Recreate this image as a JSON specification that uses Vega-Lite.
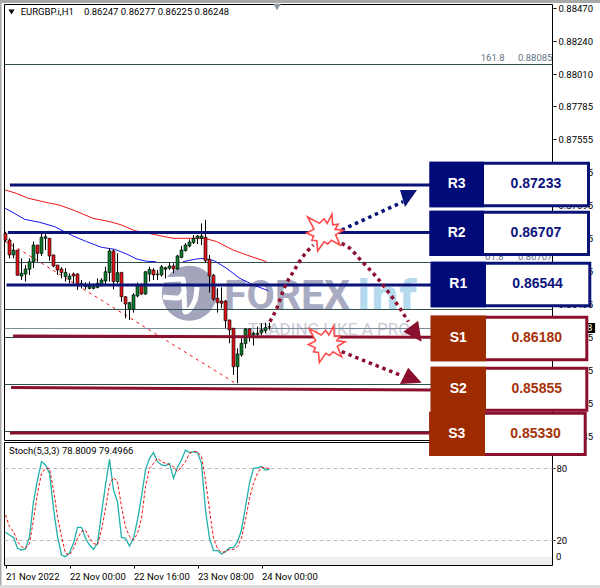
{"$schema":"https://vega.github.io/schema/vega-lite/v6.json","width":600,"height":588,"padding":0,"autosize":{"type":"none"},"background":"#ffffff","config":{"view":{"stroke":null},"text":{"font":"Roboto"},"axis":{"labelFont":"Roboto","labelFontSize":9.5,"labelColor":"#000000","tickColor":"#000000","domain":false,"grid":false,"title":null}},
"datasets":{
"chrome":[{"part":"edge","t":-1.375,"t1":148.625,"p":0.885258,"p1":0.885048},{"part":"edge","t":-1.375,"t1":-1.0,"p":0.885258,"p1":0.844276},{"part":"foot","t":-1.375,"t1":148.625,"p":0.844485,"p1":0.844276}],
"frame":[{"t":-0.25,"t1":136.75,"p":0.884944,"p1":0.854556}],
"fib":[{"t":-0.25,"t1":136.75,"p":0.880763,"p1":0.880763},{"t":-0.25,"t1":136.75,"p":0.866963,"p1":0.866963},{"t":-0.25,"t1":136.75,"p":0.863687,"p1":0.863687},{"t":-0.25,"t1":136.75,"p":0.861735,"p1":0.861735},{"t":-0.25,"t1":136.75,"p":0.858459,"p1":0.858459},{"t":-0.25,"t1":136.75,"p":0.855184,"p1":0.855184}],
"last":[{"t":-0.25,"t1":136.75,"p":0.862363,"p1":0.862363}],
"ma":[{"s":"red","t":-0.1,"p":0.87202},{"s":"red","t":2.75,"p":0.87178},{"s":"red","t":5.67,"p":0.87144},{"s":"red","t":9.4,"p":0.8712},{"s":"red","t":13.6,"p":0.87095},{"s":"red","t":16.9,"p":0.87062},{"s":"red","t":21.9,"p":0.87004},{"s":"red","t":26.1,"p":0.86981},{"s":"red","t":29,"p":0.86958},{"s":"red","t":32.3,"p":0.86918},{"s":"red","t":35.7,"p":0.869},{"s":"red","t":38.6,"p":0.86883},{"s":"red","t":41.9,"p":0.86865},{"s":"red","t":46.1,"p":0.86865},{"s":"red","t":49.8,"p":0.86865},{"s":"red","t":52.8,"p":0.86842},{"s":"red","t":56.9,"p":0.86783},{"s":"red","t":60.25,"p":0.86749},{"s":"red","t":65.25,"p":0.86702},
{"s":"blue1","t":-0.1,"p":0.87074},{"s":"blue1","t":1.9,"p":0.87044},{"s":"blue1","t":4.8,"p":0.86997},{"s":"blue1","t":8.6,"p":0.86976},{"s":"blue1","t":12.3,"p":0.86946},{"s":"blue1","t":14.4,"p":0.86916},{"s":"blue1","t":16.9,"p":0.86881},{"s":"blue1","t":20.25,"p":0.86842},{"s":"blue1","t":24,"p":0.86802},{"s":"blue1","t":27.3,"p":0.86788},{"s":"blue1","t":30.25,"p":0.86756},{"s":"blue1","t":32.75,"p":0.86721},{"s":"blue1","t":35.25,"p":0.86705},{"s":"blue1","t":37.6,"p":0.86702},
{"s":"blue2","t":44.4,"p":0.86702},{"s":"blue2","t":47.75,"p":0.86721},{"s":"blue2","t":49.8,"p":0.86725},{"s":"blue2","t":52.3,"p":0.86707},{"s":"blue2","t":55.25,"p":0.86656},{"s":"blue2","t":58.6,"p":0.86586},{"s":"blue2","t":61.9,"p":0.8654},{"s":"blue2","t":65.7,"p":0.865}],
"zigzag":[{"t":-0.1,"p":0.86842},{"t":2.75,"p":0.868},{"t":57.75,"p":0.8585}],
"logoDisc":[{"t":45.95,"p":0.86482}],
"logoCut":[{"s":"a","t":39.4,"p":0.86574},{"s":"a","t":44.4,"p":0.86581},{"s":"a","t":47.9,"p":0.86526},{"s":"a","t":47.4,"p":0.86435},{"s":"a","t":44.9,"p":0.86351},{"s":"b","t":39.4,"p":0.86456},{"s":"b","t":43.1,"p":0.86449},{"s":"b","t":44.9,"p":0.86505}],
"candles":[
{"t":0,"open":0.869,"high":0.86911,"low":0.86842,"close":0.86853},{"t":1,"open":0.86853,"high":0.86865,"low":0.86725,"close":0.86749},{"t":2,"open":0.86749,"high":0.8683,"low":0.86725,"close":0.86783},{"t":3,"open":0.86783,"high":0.86783,"low":0.86607,"close":0.86607},{"t":4,"open":0.86602,"high":0.86725,"low":0.86574,"close":0.86621},{"t":5,"open":0.86616,"high":0.86679,"low":0.86563,"close":0.86651},{"t":6,"open":0.86649,"high":0.86725,"low":0.86609,"close":0.86702},{"t":7,"open":0.86702,"high":0.86842,"low":0.86656,"close":0.86818},{"t":8,"open":0.86818,"high":0.86818,"low":0.86702,"close":0.8676},{"t":9,"open":0.8676,"high":0.869,"low":0.86742,"close":0.86872},{"t":10,"open":0.86865,"high":0.86904,"low":0.86783,"close":0.86876},{"t":11,"open":0.86865,"high":0.86865,"low":0.86709,"close":0.86742},{"t":12,"open":0.86749,"high":0.86749,"low":0.86663,"close":0.86672},{"t":13,"open":0.86679,"high":0.86679,"low":0.86609,"close":0.86644},{"t":14,"open":0.86651,"high":0.86663,"low":0.86586,"close":0.86626},{"t":15,"open":0.86598,"high":0.86656,"low":0.86563,"close":0.86626},{"t":16,"open":0.86579,"high":0.86621,"low":0.86551,"close":0.86602},{"t":17,"open":0.86616,"high":0.86626,"low":0.8654,"close":0.86602},{"t":18,"open":0.86616,"high":0.86621,"low":0.86505,"close":0.8654},{"t":19,"open":0.86537,"high":0.86574,"low":0.86516,"close":0.86551},{"t":20,"open":0.86528,"high":0.86558,"low":0.86509,"close":0.8654},{"t":21,"open":0.86516,"high":0.86563,"low":0.86509,"close":0.86528},{"t":22,"open":0.86516,"high":0.86551,"low":0.86509,"close":0.86528},{"t":23,"open":0.86523,"high":0.86586,"low":0.86516,"close":0.86551},{"t":24,"open":0.8654,"high":0.86586,"low":0.86528,"close":0.86574},{"t":25,"open":0.86567,"high":0.86667,"low":0.8654,"close":0.86632},{"t":26,"open":0.86626,"high":0.86795,"low":0.86563,"close":0.86777},{"t":27,"open":0.86777,"high":0.86788,"low":0.86509,"close":0.86563},{"t":28,"open":0.86563,"high":0.8676,"low":0.86551,"close":0.86626},{"t":29,"open":0.86626,"high":0.86632,"low":0.86423,"close":0.86458},{"t":30,"open":0.86458,"high":0.86463,"low":0.86307,"close":0.86407},{"t":31,"open":0.8637,"high":0.86423,"low":0.86296,"close":0.86416},{"t":32,"open":0.8637,"high":0.86482,"low":0.86347,"close":0.8647},{"t":33,"open":0.86463,"high":0.86556,"low":0.86454,"close":0.8654},{"t":34,"open":0.8654,"high":0.86551,"low":0.8647,"close":0.86477},{"t":35,"open":0.86477,"high":0.86637,"low":0.8647,"close":0.86632},{"t":36,"open":0.86616,"high":0.86667,"low":0.86563,"close":0.86649},{"t":37,"open":0.86644,"high":0.86656,"low":0.86574,"close":0.86609},{"t":38,"open":0.86611,"high":0.86644,"low":0.86574,"close":0.86616},{"t":39,"open":0.86609,"high":0.86679,"low":0.86598,"close":0.86667},{"t":40,"open":0.86649,"high":0.86667,"low":0.86586,"close":0.8666},{"t":41,"open":0.86656,"high":0.86695,"low":0.86644,"close":0.86672},{"t":42,"open":0.86672,"high":0.86691,"low":0.86621,"close":0.86651},{"t":43,"open":0.86651,"high":0.86749,"low":0.86644,"close":0.86742},{"t":44,"open":0.86732,"high":0.86811,"low":0.86725,"close":0.86783},{"t":45,"open":0.86779,"high":0.8683,"low":0.86772,"close":0.86818},{"t":46,"open":0.86811,"high":0.86858,"low":0.86802,"close":0.86839},{"t":47,"open":0.86835,"high":0.86888,"low":0.86825,"close":0.86865},{"t":48,"open":0.86865,"high":0.86888,"low":0.86825,"close":0.86881},{"t":49,"open":0.86865,"high":0.86969,"low":0.86818,"close":0.86881},{"t":50,"open":0.86872,"high":0.86993,"low":0.86695,"close":0.86709},{"t":51,"open":0.86718,"high":0.86749,"low":0.86486,"close":0.86602},{"t":52,"open":0.86607,"high":0.86616,"low":0.8643,"close":0.8644},{"t":53,"open":0.86447,"high":0.86516,"low":0.86347,"close":0.86416},{"t":54,"open":0.86428,"high":0.86523,"low":0.86377,"close":0.86412},{"t":55,"open":0.86428,"high":0.86435,"low":0.86238,"close":0.86291},{"t":56,"open":0.86296,"high":0.86296,"low":0.86133,"close":0.86226},{"t":57,"open":0.86238,"high":0.86238,"low":0.85912,"close":0.8597},{"t":58,"open":0.8597,"high":0.86098,"low":0.85854,"close":0.86059},{"t":59,"open":0.86052,"high":0.86168,"low":0.8604,"close":0.86133},{"t":60,"open":0.86131,"high":0.86238,"low":0.86098,"close":0.86233},{"t":61,"open":0.86233,"high":0.86238,"low":0.86145,"close":0.86175},{"t":62,"open":0.86191,"high":0.86214,"low":0.86117,"close":0.86203},{"t":63,"open":0.86196,"high":0.86249,"low":0.86168,"close":0.86203},{"t":64,"open":0.86207,"high":0.86273,"low":0.86191,"close":0.86226},{"t":65,"open":0.86221,"high":0.86277,"low":0.86203,"close":0.86242},{"t":66,"open":0.86247,"high":0.86277,"low":0.86225,"close":0.86248}],
"stochK":[{"t":0,"v":26.4},{"t":1,"v":24.2},{"t":2,"v":22.2},{"t":3,"v":13.1},{"t":4,"v":11.7},{"t":5,"v":12.5},{"t":6,"v":22.8},{"t":7,"v":51.9},{"t":8,"v":70},{"t":9,"v":85.3},{"t":10,"v":82.5},{"t":11,"v":75.6},{"t":12,"v":46.4},{"t":13,"v":22.8},{"t":14,"v":7.5},{"t":15,"v":6.1},{"t":16,"v":9.4},{"t":17,"v":17.2},{"t":18,"v":30.6},{"t":19,"v":30.6},{"t":20,"v":21.4},{"t":21,"v":15.8},{"t":22,"v":12.2},{"t":23,"v":17.2},{"t":24,"v":42.2},{"t":25,"v":65.8},{"t":26,"v":87.2},{"t":27,"v":61.7},{"t":28,"v":51.9},{"t":29,"v":22.2},{"t":30,"v":21.4},{"t":31,"v":15},{"t":32,"v":21.4},{"t":33,"v":36.7},{"t":34,"v":56.1},{"t":35,"v":78.3},{"t":36,"v":88.1},{"t":37,"v":92.8},{"t":38,"v":85.3},{"t":39,"v":82.5},{"t":40,"v":81.9},{"t":41,"v":83.9},{"t":42,"v":71.4},{"t":43,"v":80.6},{"t":44,"v":86.7},{"t":45,"v":95},{"t":46,"v":92.8},{"t":47,"v":93.6},{"t":48,"v":92.8},{"t":49,"v":83.9},{"t":50,"v":45},{"t":51,"v":21.4},{"t":52,"v":11.1},{"t":53,"v":11.1},{"t":54,"v":8.3},{"t":55,"v":10.3},{"t":56,"v":13.6},{"t":57,"v":13.6},{"t":58,"v":18.6},{"t":59,"v":28.3},{"t":60,"v":47.8},{"t":61,"v":67.2},{"t":62,"v":79.7},{"t":63,"v":80.3},{"t":64,"v":81.1},{"t":65,"v":78.3},{"t":66,"v":78.8}],
"stochD":[{"t":0,"v":40.8},{"t":1,"v":31.1},{"t":2,"v":27},{"t":3,"v":18.6},{"t":4,"v":14.4},{"t":5,"v":13},{"t":6,"v":17.2},{"t":7,"v":36.7},{"t":8,"v":58.9},{"t":9,"v":75.6},{"t":10,"v":79.7},{"t":11,"v":79.7},{"t":12,"v":61.7},{"t":13,"v":39.4},{"t":14,"v":22.8},{"t":15,"v":8.9},{"t":16,"v":7.5},{"t":17,"v":13},{"t":18,"v":21.4},{"t":19,"v":27},{"t":20,"v":28.3},{"t":21,"v":21.4},{"t":22,"v":17.2},{"t":23,"v":15.8},{"t":24,"v":28.3},{"t":25,"v":46.4},{"t":26,"v":65.8},{"t":27,"v":72},{"t":28,"v":68.6},{"t":29,"v":47.8},{"t":30,"v":31.1},{"t":31,"v":22.8},{"t":32,"v":20},{"t":33,"v":25.5},{"t":34,"v":38},{"t":35,"v":64.4},{"t":36,"v":79.7},{"t":37,"v":83.9},{"t":38,"v":88.1},{"t":39,"v":85.3},{"t":40,"v":83.9},{"t":41,"v":83},{"t":42,"v":81.1},{"t":43,"v":76.9},{"t":44,"v":81.1},{"t":45,"v":85.3},{"t":46,"v":92.2},{"t":47,"v":93.6},{"t":48,"v":93.6},{"t":49,"v":89.4},{"t":50,"v":70},{"t":51,"v":45},{"t":52,"v":21.4},{"t":53,"v":13},{"t":54,"v":9.7},{"t":55,"v":10.3},{"t":56,"v":12.2},{"t":57,"v":12.2},{"t":58,"v":14.4},{"t":59,"v":21.4},{"t":60,"v":36.7},{"t":61,"v":54.7},{"t":62,"v":67.2},{"t":63,"v":75.6},{"t":64,"v":80.6},{"t":65,"v":80.3},{"t":66,"v":79.4966}],
"levelLines":[{"kind":"R","t":1.1,"t1":106.5,"p":0.87236,"p1":0.87236},{"kind":"R","t":0.6,"t1":106.5,"p":0.86905,"p1":0.86905},{"kind":"R","t":0.25,"t1":106.5,"p":0.86539,"p1":0.86539},{"kind":"S","t":1.9,"t1":106.5,"p":0.86184,"p1":0.86176},{"kind":"S","t":1.4,"t1":106.5,"p":0.85825,"p1":0.85808},{"kind":"S","t":1.1,"t1":106.5,"p":0.85508,"p1":0.85508}],
"boxes":[
{"kind":"R","name":"R3","value":"0.87233","t":106.375,"t1":145.75,"p":0.87388,"p1":0.87091,"fl":106,"fr":119.625,"ft":0.87399,"fb":0.87081,"mid":0.8724,"tn":112.8,"tv":132.6},
{"kind":"R","name":"R2","value":"0.86707","t":106.375,"t1":145.75,"p":0.87047,"p1":0.86752,"fl":106,"fr":119.625,"ft":0.87057,"fb":0.86742,"mid":0.869,"tn":112.8,"tv":132.6},
{"kind":"R","name":"R1","value":"0.86544","t":106.675,"t1":146.075,"p":0.86691,"p1":0.86394,"fl":106.3,"fr":120.125,"ft":0.86702,"fb":0.86384,"mid":0.86543,"tn":113.2,"tv":133},
{"kind":"S","name":"S1","value":"0.86180","t":106.675,"t1":145.325,"p":0.86315,"p1":0.86018,"fl":106.3,"fr":120.125,"ft":0.86326,"fb":0.86008,"mid":0.86167,"tn":113.2,"tv":132.8},
{"kind":"S","name":"S2","value":"0.85855","t":106.675,"t1":145.325,"p":0.8596,"p1":0.85667,"fl":106.3,"fr":120.125,"ft":0.8597,"fb":0.85656,"mid":0.85814,"tn":113.2,"tv":132.8},
{"kind":"S","name":"S3","value":"0.85330","t":106.325,"t1":144.925,"p":0.85646,"p1":0.85358,"fl":105.95,"fr":119.875,"ft":0.85656,"fb":0.85348,"mid":0.85502,"tn":112.8,"tv":132.5}],
"dots":[{"s":"up","t":84.05,"p":0.86923},{"s":"up","t":99.4,"p":0.8712},
{"s":"rise","t":66.1,"p":0.86284},{"s":"rise","t":67.8,"p":0.86377},{"s":"rise","t":69.9,"p":0.86532},{"s":"rise","t":71.95,"p":0.86632},{"s":"rise","t":74.05,"p":0.86726},{"s":"rise","t":76.95,"p":0.86818},
{"s":"fall","t":84.05,"p":0.8683},{"s":"fall","t":86.1,"p":0.86795},{"s":"fall","t":88.6,"p":0.86719},{"s":"fall","t":92.8,"p":0.86593},{"s":"fall","t":95.3,"p":0.86505},{"s":"fall","t":98.6,"p":0.86377},{"s":"fall","t":100.7,"p":0.86284},
{"s":"down","t":84.05,"p":0.86075},{"s":"down","t":98.6,"p":0.85912}],
"stars":[{"t":79.875,"p":0.86905},{"t":80.3,"p":0.86127}]
},
"resolve":{"scale":{"y":"independent"},"axis":{"x":"independent","y":"independent"}},
"layer":[
{"encoding":{"x":{"field":"t","type":"quantitative","scale":{"domain":[-1.375,148.625],"padding":0},"axis":{"orient":"bottom","offset":-23,"values":[0,16,32,48,64],"labelExpr":"datum.value==0?'21 Nov 2022':datum.value==16?'22 Nov 00:00':datum.value==32?'22 Nov 16:00':datum.value==48?'23 Nov 08:00':'24 Nov 00:00'","labelAlign":"left","labelPadding":3,"tickSize":3,"labelFlush":false,"labelOverlap":false}},"y":{"field":"p","type":"quantitative","scale":{"domain":[0.844276,0.885258]},"axis":{"orient":"right","offset":-47,"values":[0.8847,0.8824,0.8801,0.87785,0.87555,0.87325,0.87095,0.86865,0.86635,0.86405,0.86175,0.85945,0.85715,0.85485],"format":".5f","tickSize":3,"labelPadding":2,"labelOverlap":false,"labelFlush":false}}},
"layer":[
{"data":{"name":"chrome"},"mark":{"type":"rect"},"encoding":{"x2":{"field":"t1"},"y2":{"field":"p1"},"color":{"condition":{"test":"datum.part=='edge'","value":"#a8a8a8"},"value":"#dcdcdc"}}},
{"data":{"name":"frame"},"mark":{"type":"rect","fillOpacity":0,"stroke":"#000000","strokeWidth":1},"encoding":{"x2":{"field":"t1"},"y2":{"field":"p1"}}},
{"data":{"name":"logoDisc"},"mark":{"type":"point","shape":"circle","filled":true,"size":3025,"color":"#a3a5bd","opacity":1}},
{"data":{"name":"logoCut"},"mark":{"type":"line","color":"#ffffff","strokeWidth":5,"interpolate":"monotone"},"encoding":{"detail":{"field":"s"},"order":{"value":0}}},
{"data":{"values":[{"t":54.6,"p":0.86456,"label":"FOREX"}]},"mark":{"type":"text","align":"left","baseline":"middle","font":"Roboto","fontWeight":"bold","fontSize":41,"color":"#a9abc2"},"encoding":{"text":{"field":"label"}}},
{"data":{"values":[{"t":87.8,"p":0.86456,"label":"inf"}]},"mark":{"type":"text","align":"left","baseline":"middle","font":"DejaVu Sans","fontWeight":"bold","fontSize":40,"color":"#b5daee"},"encoding":{"text":{"field":"label"}}},
{"data":{"values":[{"t":60.6,"p":0.86226,"label":"TRADING LIKE A PRO"}]},"mark":{"type":"text","align":"left","baseline":"middle","font":"Roboto","fontSize":17,"color":"#c9cad6"},"encoding":{"text":{"field":"label"}}},
{"data":{"name":"fib"},"mark":{"type":"rule","color":"#2f4f4f","strokeWidth":1},"encoding":{"x2":{"field":"t1"},"y2":{"field":"p1"}}},
{"data":{"name":"last"},"mark":{"type":"rule","color":"#7b8b99","strokeWidth":1},"encoding":{"x2":{"field":"t1"},"y2":{"field":"p1"}}},
{"data":{"name":"zigzag"},"mark":{"type":"line","color":"#f01010","strokeWidth":1,"strokeDash":[3,4]}},
{"data":{"name":"ma"},"transform":[{"filter":"datum.s=='red'"}],"mark":{"type":"line","color":"#f01414","strokeWidth":1},"encoding":{"order":{"field":"t"}}},
{"data":{"name":"ma"},"transform":[{"filter":"datum.s!='red'"}],"mark":{"type":"line","color":"#1414f0","strokeWidth":1},"encoding":{"detail":{"field":"s"},"order":{"field":"t"}}},
{"data":{"values":[{"t":1.5,"p":0.88442}]},"mark":{"type":"point","shape":"triangle-down","filled":true,"size":36,"color":"#000000","opacity":1}},
{"data":{"values":[{"t":67.9,"p":0.88477}]},"mark":{"type":"point","shape":"triangle-down","filled":true,"size":60,"color":"#8d98a3","opacity":1}},
{"data":{"values":[{"t":3.8,"p":0.88442,"label":"EURGBP.i,H1"},{"t":19.6,"p":0.88442,"label":"0.86247 0.86277 0.86225 0.86248"}]},"mark":{"type":"text","align":"left","baseline":"middle","fontSize":9.5,"color":"#000000"},"encoding":{"text":{"field":"label"}}},
{"data":{"values":[{"t":118.8,"p":0.88119,"label":"161.8"},{"t":128.1,"p":0.88119,"label":"0.88085"},{"t":119.9,"p":0.86733,"label":"61.8"},{"t":128.1,"p":0.86733,"label":"0.86707"}]},"mark":{"type":"text","align":"left","baseline":"middle","fontSize":9.5,"color":"#5f7282"},"encoding":{"text":{"field":"label"}}},
{"data":{"values":[{"t":137.4,"t1":147.4,"p":0.86274,"p1":0.86205}]},"mark":{"type":"rect","color":"#000000"},"encoding":{"x2":{"field":"t1"},"y2":{"field":"p1"}}},
{"data":{"values":[{"t":138.1,"p":0.8624,"label":"0.86248"}]},"mark":{"type":"text","align":"left","baseline":"middle","fontSize":9.5,"color":"#ffffff"},"encoding":{"text":{"field":"label"}}}
]},
{"data":{"name":"candles"},"encoding":{"x":{"field":"t","type":"quantitative","scale":{"domain":[-1.375,148.625],"padding":0},"axis":null}},
"layer":[
{"mark":{"type":"rule","color":"#000000","strokeWidth":1},"encoding":{"y":{"field":"low","type":"quantitative","scale":{"domain":[0.844276,0.885258]},"axis":null},"y2":{"field":"high"}}},
{"mark":{"type":"bar","size":3,"stroke":"#000000","strokeWidth":0.6,"orient":"vertical"},"encoding":{"y":{"field":"open","type":"quantitative","scale":{"domain":[0.844276,0.885258]},"axis":null},"y2":{"field":"close"},"color":{"condition":{"test":"datum.close>=datum.open","value":"#0c7a2e"},"value":"#dc1418"}}}
]},
{"encoding":{"x":{"field":"t","type":"quantitative","scale":{"domain":[-1.375,148.625],"padding":0},"axis":null},"y":{"field":"v","type":"quantitative","scale":{"domain":[-20,470]},"axis":{"orient":"right","offset":-47,"values":[80,20],"format":"d","tickSize":2,"labelPadding":1,"labelOverlap":false,"labelFlush":false}}},
"layer":[
{"data":{"values":[{"t":-0.25,"t1":136.75,"v":5.83,"v1":-1.25}]},"mark":{"type":"rect","color":"#efefef"},"encoding":{"x2":{"field":"t1"},"y2":{"field":"v1"}}},
{"data":{"values":[{"t":-0.25,"t1":136.75,"v":101.25,"v1":-1.25}]},"mark":{"type":"rect","fillOpacity":0,"stroke":"#000000","strokeWidth":1},"encoding":{"x2":{"field":"t1"},"y2":{"field":"v1"}}},
{"data":{"values":[{"t":-0.25,"t1":136.75,"v":79.6},{"t":-0.25,"t1":136.75,"v":19.6}]},"mark":{"type":"rule","color":"#bcbcbc","strokeWidth":1,"strokeDash":[4,3]},"encoding":{"x2":{"field":"t1"}}},
{"data":{"name":"stochK"},"mark":{"type":"line","color":"#20b2aa","strokeWidth":1.3}},
{"data":{"name":"stochD"},"mark":{"type":"line","color":"#f01010","strokeWidth":1,"strokeDash":[3,2]}},
{"data":{"values":[{"t":0.875,"v":94.2,"label":"Stoch(5,3,3) 78.8009 79.4966"}]},"mark":{"type":"text","align":"left","baseline":"middle","fontSize":9.5,"color":"#000000"},"encoding":{"text":{"field":"label"}}},
{"data":{"values":[{"t":137.6,"v":5.5,"label":"0"}]},"mark":{"type":"text","align":"left","baseline":"middle","fontSize":9.5,"color":"#000000"},"encoding":{"text":{"field":"label"}}}
]},
{"encoding":{"x":{"field":"t","type":"quantitative","scale":{"domain":[-1.375,148.625],"padding":0},"axis":null},"y":{"field":"p","type":"quantitative","scale":{"domain":[0.844276,0.885258]},"axis":null}},
"layer":[
{"data":{"name":"levelLines"},"mark":{"type":"rule","strokeWidth":3},"encoding":{"x2":{"field":"t1"},"y2":{"field":"p1"},"color":{"condition":{"test":"datum.kind=='R'","value":"#0a1478"},"value":"#8b1030"}}},
{"data":{"name":"dots"},"transform":[{"filter":"datum.s=='up'"}],"mark":{"type":"line","color":"#0a1478","strokeWidth":3.5,"strokeDash":[3.5,3.8]}},
{"data":{"name":"dots"},"transform":[{"filter":"datum.s!='up'"}],"mark":{"type":"line","color":"#8b1030","strokeWidth":3.5,"strokeDash":[3.5,3.8],"interpolate":"monotone"},"encoding":{"detail":{"field":"s"},"order":{"field":"t"}}},
{"data":{"values":[{"t":100.75,"p":0.87142}]},"mark":{"type":"point","filled":true,"opacity":1,"color":"#0a1478","size":289,"shape":"M-1,-1L1,-1L-0.41,1Z"}},
{"data":{"values":[{"t":102.2,"p":0.86216}]},"mark":{"type":"point","filled":true,"opacity":1,"color":"#8b1030","size":484,"shape":"M-1,0.03L0.35,-0.97L0.66,0.94Z"}},
{"data":{"values":[{"t":101.3,"p":0.85891}]},"mark":{"type":"point","filled":true,"opacity":1,"color":"#8b1030","size":484,"shape":"M-0.98,0.55L-0.23,-0.94L0.99,0.43Z"}},
{"data":{"name":"stars"},"mark":{"type":"point","filled":true,"opacity":1,"fill":"#ffffff","stroke":"#ff4a4a","strokeWidth":1.6,"size":1344,"shape":"M-0.95,-0.85L-0.3,-0.5L-0.05,-0.75L0.12,-0.5L0.38,-1L0.42,-0.42L0.72,-0.45L0.55,-0.18L1,-0.13L0.58,0.12L0.82,0.69L0.35,0.42L0.15,0.62L-0.05,0.5L-0.4,1L-0.45,0.45L-0.72,0.42L-0.62,0.2L-1,0.02L-0.6,-0.18Z"}},
{"data":{"name":"boxes"},"mark":{"type":"rect","fill":"#ffffff","strokeWidth":3},"encoding":{"x2":{"field":"t1"},"y2":{"field":"p1"},"stroke":{"condition":{"test":"datum.kind=='R'","value":"#0a1478"},"value":"#8b1030"}}},
{"data":{"name":"boxes"},"mark":{"type":"rect"},"encoding":{"x":{"field":"fl","type":"quantitative","scale":{"domain":[-1.375,148.625],"padding":0},"axis":null},"x2":{"field":"fr"},"y":{"field":"ft","type":"quantitative","scale":{"domain":[0.844276,0.885258]},"axis":null},"y2":{"field":"fb"},"color":{"condition":{"test":"datum.kind=='R'","value":"#000a78"},"value":"#9e2a00"}}},
{"data":{"name":"boxes"},"mark":{"type":"text","font":"Liberation Sans","fontWeight":"bold","fontSize":14,"align":"center","baseline":"middle","color":"#ffffff"},"encoding":{"x":{"field":"tn","type":"quantitative","scale":{"domain":[-1.375,148.625],"padding":0},"axis":null},"y":{"field":"mid","type":"quantitative","scale":{"domain":[0.844276,0.885258]},"axis":null},"text":{"field":"name"}}},
{"data":{"name":"boxes"},"mark":{"type":"text","font":"Liberation Sans","fontWeight":"bold","fontSize":14,"align":"center","baseline":"middle"},"encoding":{"x":{"field":"tv","type":"quantitative","scale":{"domain":[-1.375,148.625],"padding":0},"axis":null},"y":{"field":"mid","type":"quantitative","scale":{"domain":[0.844276,0.885258]},"axis":null},"text":{"field":"value"},"color":{"condition":{"test":"datum.kind=='R'","value":"#0c1480"},"value":"#a63208"}}}
]}
]}
